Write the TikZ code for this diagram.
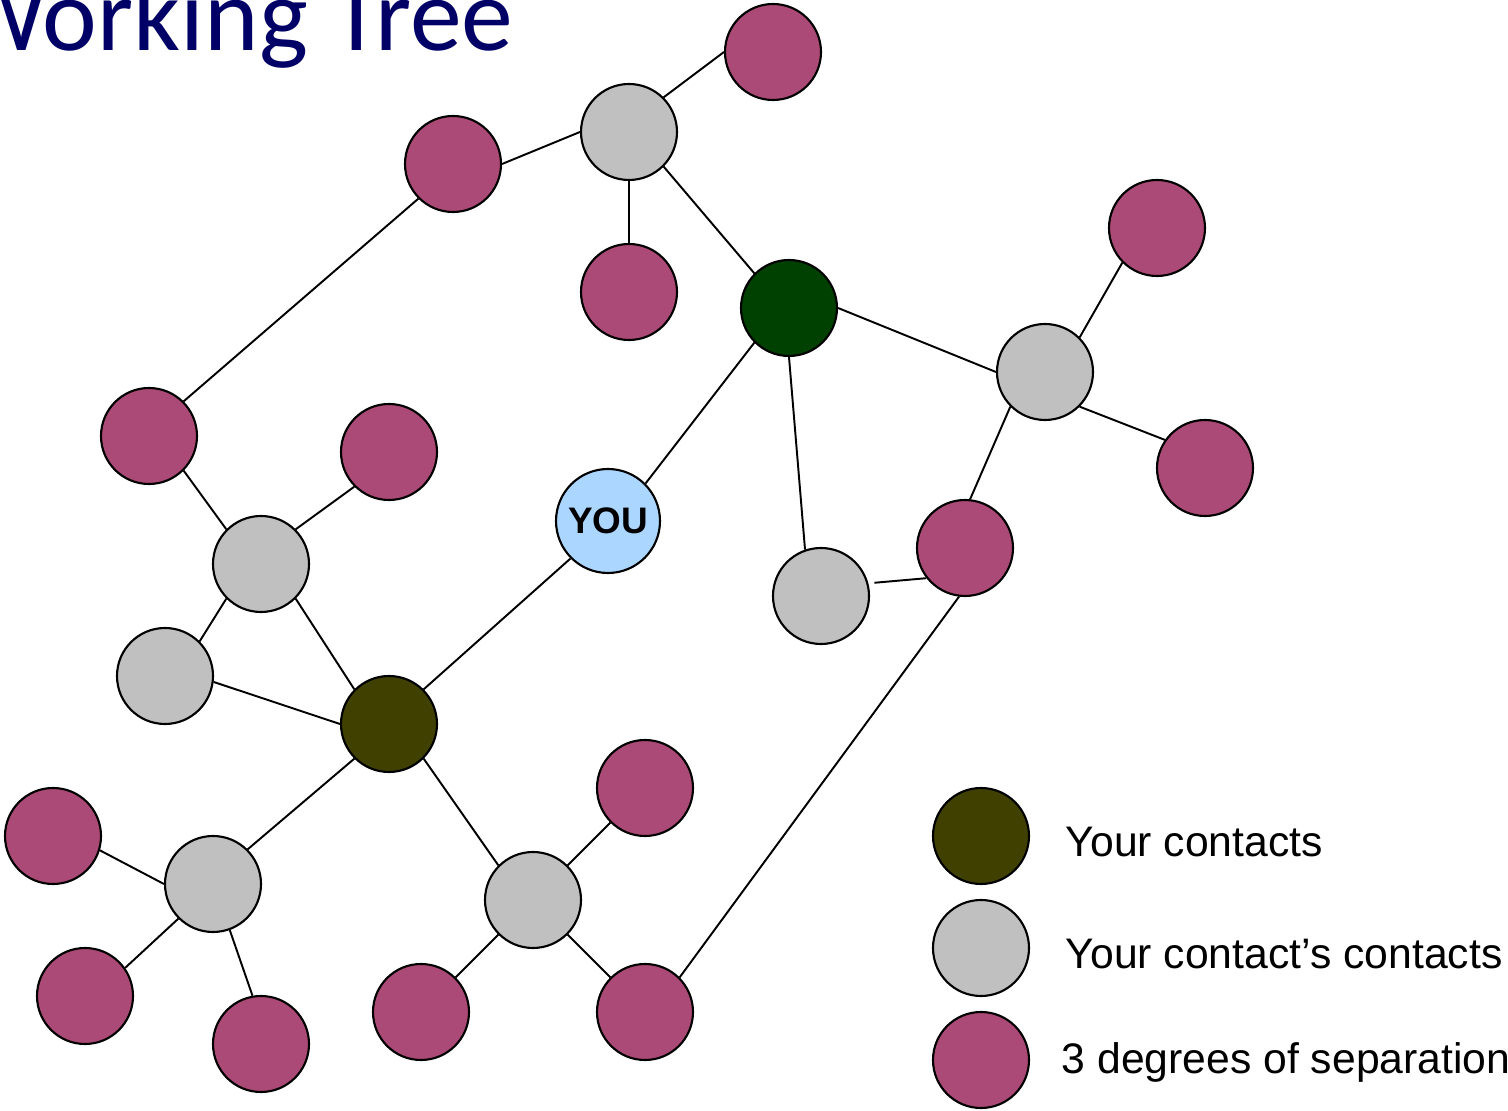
\documentclass[tikz,border=0pt]{standalone}
\usepackage{fontspec}
\setmainfont{Liberation Sans}
\newfontfamily\titlefont{Carlito}
\definecolor{titleblue}{RGB}{0,0,102}
\definecolor{contactgreen}{RGB}{0,64,0}
\definecolor{contactolive}{RGB}{64,64,0}
\definecolor{secondgray}{RGB}{192,192,192}
\definecolor{thirdpink}{RGB}{171,74,118}
\definecolor{youblue}{RGB}{170,214,255}
\begin{document}
\begin{tikzpicture}[x=0.1mm, y=-0.1mm,
        person/.style = {circle, draw = black, line width = 0.6pt, minimum size = 9.6mm, inner sep = 0pt},
        third/.style = {person, fill = thirdpink},
        second/.style = {person, fill = secondgray},
        link/.style = {line width = 0.55pt},
        keytext/.style = {anchor = west, inner sep = 0pt, font = \fontsize{12.15}{14}\selectfont}
    ]
        \useasboundingbox (0,0) rectangle (1508,1111);
        \clip (0,0) rectangle (1508,1111);

        \node[titleblue, anchor = base east, inner sep = 0pt, font = \titlefont\fontsize{29.5}{32}\selectfont] (title) at (514,51) {Working Tree};

        \node[person, fill = youblue, minimum size = 10.4mm, font = \bfseries\fontsize{10.5}{12}\selectfont] (you) at (608,521) {YOU};
        \node[person, fill = contactgreen] (c1) at (789,308) {};
        \node[person, fill = contactolive] (c2) at (389,724) {};

        \node[second] (g1) at (629,132) {};
        \node[second] (g2) at (1045,372) {};
        \node[second] (g3) at (261,564) {};
        \node[second] (g4) at (821,596) {};
        \node[second] (g5) at (165,676) {};
        \node[second] (g6) at (213,884) {};
        \node[second] (g7) at (533,900) {};

        \node[third] (m1) at (773,52) {};
        \node[third] (m2) at (453,164) {};
        \node[third] (m3) at (629,292) {};
        \node[third] (m4) at (1157,228) {};
        \node[third] (m5) at (1205,468) {};
        \node[third] (m6) at (149,436) {};
        \node[third] (m7) at (389,452) {};
        \node[third] (m8) at (965,548) {};
        \node[third] (m9) at (645,788) {};
        \node[third] (m10) at (53,836) {};
        \node[third] (m11) at (85,996) {};
        \node[third] (m12) at (261,1044) {};
        \node[third] (m13) at (421,1012) {};
        \node[third] (m14) at (645,1012) {};

        % links
        \draw[link] (you.north east) -- (c1.south west);
        \draw[link] (you.south west) -- (c2.north east);
        \draw[link] (c1.north west) -- (g1.south east);
        \draw[link] (c1.east) -- (g2.west);
        \draw[link] (c1.south) -- (g4.109);
        \draw[link] (c2.north west) -- (g3.south east);
        \draw[link] (c2.west) -- (g5.-7);
        \draw[link] (c2.south west) -- (g6.north east);
        \draw[link] (c2.south east) -- (g7.north west);
        \draw[link] (g1.north east) -- (m1.west);
        \draw[link] (g1.west) -- (m2.east);
        \draw[link] (g1.south) -- (m3.north);
        \draw[link] (m2.south west) -- (m6.north east);
        \draw[link] (g2.north east) -- (m4.south west);
        \draw[link] (g2.south east) -- (m5.145);
        \draw[link] (g2.south west) -- (m8.84);
        \draw[link, shorten < = 0.6mm] (g4.15) -- (m8.218);
        \draw[link] (m8.-97) -- (m14.north east);
        \draw[link] (g3.north west) -- (m6.south east);
        \draw[link] (g3.north east) -- (m7.south west);
        \draw[link] (g3.south west) -- (g5.north east);
        \draw[link] (g6.west) -- (m10.-17);
        \draw[link] (g6.south west) -- (m11.35);
        \draw[link] (g6.-70) -- (m12.100);
        \draw[link] (g7.north east) -- (m9.south west);
        \draw[link] (g7.south west) -- (m13.north east);
        \draw[link] (g7.south east) -- (m14.north west);

        % legend
        \node[person, fill = contactolive] (key1) at (981,836) {};
        \node[second] (key2) at (981,948) {};
        \node[third] (key3) at (981,1060) {};
        \node[keytext] (text1) at (1065,842) {Your contacts};
        \node[keytext] (text2) at (1065,954) {Your contact’s contacts};
        \node[keytext] (text3) at (1061,1062) {3 degrees of separation};
\end{tikzpicture}
\end{document}
